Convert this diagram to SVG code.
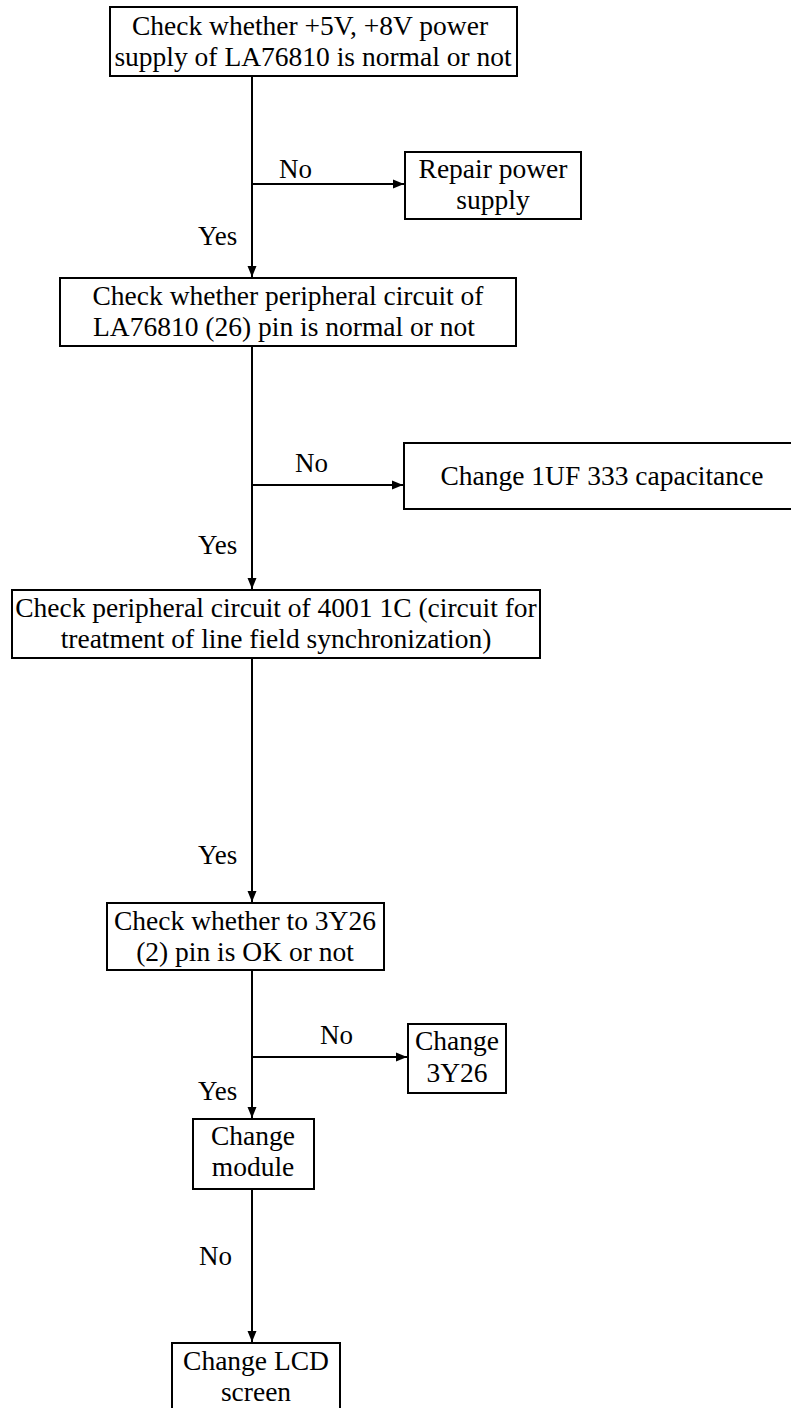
<svg xmlns="http://www.w3.org/2000/svg" width="791" height="1408" viewBox="0 0 791 1408">
<style>
.box{fill:#fff;stroke:#000;stroke-width:2}
.t{font-family:"Liberation Serif","Times New Roman",serif;font-size:27.5px;fill:#000;text-anchor:middle}
.l{font-family:"Liberation Serif","Times New Roman",serif;font-size:27px;fill:#000}
.c{stroke:#000;stroke-width:2;fill:none}
</style>
<defs>
<marker id="ah" viewBox="0 0 11 10" refX="11" refY="5" markerWidth="11" markerHeight="10" markerUnits="userSpaceOnUse" orient="auto">
<path d="M0,0.5 L11,5 L0,9.5 Z" fill="#000"/>
</marker>
</defs>
<rect width="791" height="1408" fill="#fff"/>
<g id="connectors">
<line class="c" x1="252" y1="76" x2="252" y2="277" marker-end="url(#ah)"/>
<line class="c" x1="252" y1="184" x2="404" y2="184" marker-end="url(#ah)"/>
<line class="c" x1="252" y1="346" x2="252" y2="589" marker-end="url(#ah)"/>
<line class="c" x1="252" y1="485" x2="403" y2="485" marker-end="url(#ah)"/>
<line class="c" x1="252" y1="658" x2="252" y2="902" marker-end="url(#ah)"/>
<line class="c" x1="252" y1="970" x2="252" y2="1118" marker-end="url(#ah)"/>
<line class="c" x1="252" y1="1057" x2="407" y2="1057" marker-end="url(#ah)"/>
<line class="c" x1="252" y1="1189" x2="252" y2="1342" marker-end="url(#ah)"/>
<text class="l" x="279" y="178">No</text>
<text class="l" x="198" y="245">Yes</text>
<text class="l" x="295" y="472">No</text>
<text class="l" x="198" y="554">Yes</text>
<text class="l" x="198" y="864">Yes</text>
<text class="l" x="320" y="1044">No</text>
<text class="l" x="198" y="1100">Yes</text>
<text class="l" x="199" y="1265">No</text>
</g>
<g id="n1">
<rect class="box" x="110" y="7" width="407" height="69"/>
<text class="t" x="310" y="35">Check whether +5V, +8V power</text>
<text class="t" x="313" y="66">supply of LA76810 is normal or not</text>
</g>
<g id="n2">
<rect class="box" x="405" y="152" width="176" height="67"/>
<text class="t" x="493" y="178">Repair power</text>
<text class="t" x="493" y="209">supply</text>
</g>
<g id="n3">
<rect class="box" x="60" y="278" width="456" height="68"/>
<text class="t" x="288" y="305">Check whether peripheral circuit of</text>
<text class="t" x="284" y="336">LA76810 (26) pin is normal or not</text>
</g>
<g id="n4">
<rect class="box" x="404" y="443" width="390" height="66"/>
<text class="t" x="602" y="485">Change 1UF 333 capacitance</text>
</g>
<g id="n5">
<rect class="box" x="12" y="590" width="528" height="68"/>
<text class="t" x="276" y="617" font-size="27.2">Check peripheral circuit of 4001 1C (circuit for</text>
<text class="t" x="276" y="648">treatment of line field synchronization)</text>
</g>
<g id="n6">
<rect class="box" x="107" y="903" width="277" height="67"/>
<text class="t" x="245" y="930">Check whether to 3Y26</text>
<text class="t" x="245" y="961">(2) pin is OK or not</text>
</g>
<g id="n7">
<rect class="box" x="408" y="1024" width="98" height="69"/>
<text class="t" x="457" y="1050">Change</text>
<text class="t" x="457" y="1082">3Y26</text>
</g>
<g id="n8">
<rect class="box" x="193" y="1119" width="121" height="70"/>
<text class="t" x="253" y="1145">Change</text>
<text class="t" x="253" y="1176">module</text>
</g>
<g id="n9">
<rect class="box" x="172" y="1343" width="168" height="70"/>
<text class="t" x="256" y="1370">Change LCD</text>
<text class="t" x="256" y="1401">screen</text>
</g>
</svg>
